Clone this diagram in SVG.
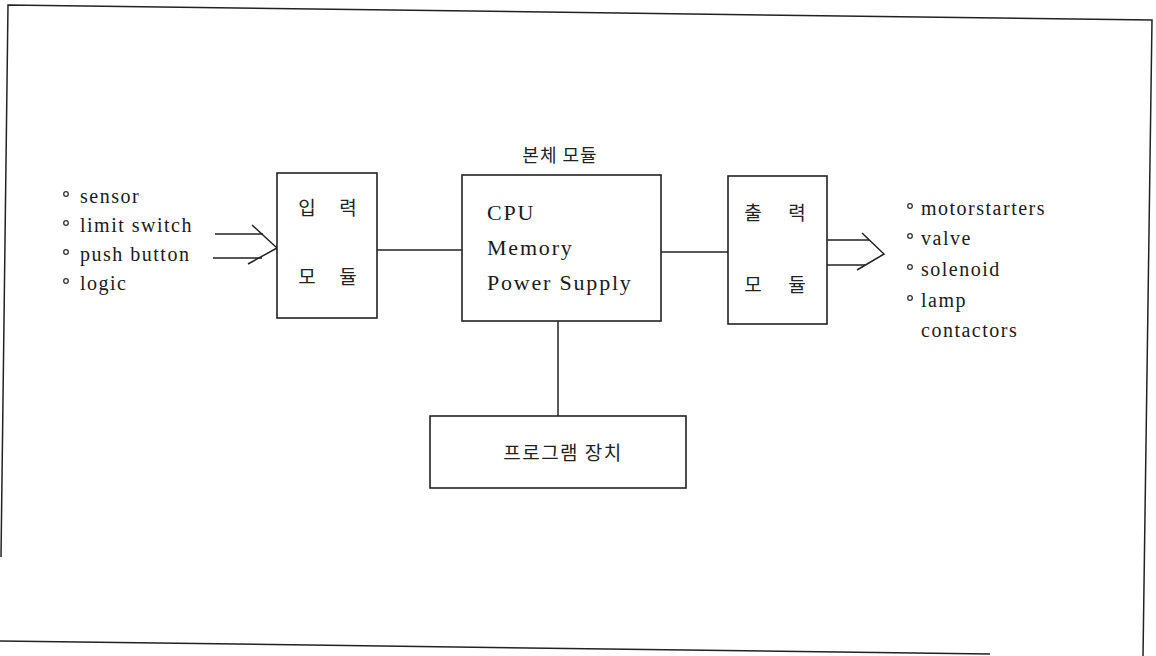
<svg xmlns="http://www.w3.org/2000/svg" width="1156" height="656" viewBox="0 0 1156 656">
<style>
.ln{stroke:#222;stroke-width:1.5;fill:none}
.box{stroke:#222;stroke-width:1.6;fill:#fff}
.lat{font-family:"Liberation Serif","DejaVu Serif","Times New Roman",serif;fill:#1a1a1a}
.ko{font-family:"Noto Sans CJK KR",sans-serif;font-weight:400;fill:#222}
.bul{fill:#fff;stroke:#333;stroke-width:1.3}
</style>
<rect width="1156" height="656" fill="#fff"/>
<g id="frame" class="ln">
<polyline points="1,557 8,5 1152,20 1143,656"/>
<line x1="0" y1="641" x2="990" y2="654"/>
</g>
<g id="connectors" class="ln">
<line x1="215" y1="234" x2="263" y2="234"/>
<line x1="213" y1="258" x2="262" y2="258"/>
<polyline points="252,225 277,248 248,264"/>
<line x1="377" y1="250" x2="462" y2="250"/>
<line x1="661" y1="252" x2="728" y2="252"/>
<line x1="827" y1="240" x2="869" y2="240"/>
<line x1="827" y1="265" x2="865" y2="265"/>
<polyline points="862,233 884,254 857,270"/>
<line x1="558" y1="321" x2="558" y2="416"/>
</g>
<g id="inputs">
<circle class="bul" cx="66" cy="194" r="2.3"/>
<circle class="bul" cx="66" cy="223" r="2.3"/>
<circle class="bul" cx="66" cy="252" r="2.3"/>
<circle class="bul" cx="66" cy="281" r="2.3"/>
<text class="lat" font-size="20" letter-spacing="1.5" x="80" y="203">sensor</text>
<text class="lat" font-size="20" letter-spacing="1.5" x="80" y="232">limit switch</text>
<text class="lat" font-size="20" letter-spacing="1.5" x="80" y="261">push button</text>
<text class="lat" font-size="20" letter-spacing="1.5" x="80" y="290">logic</text>
</g>
<g id="input-module">
<rect class="box" x="277" y="173" width="100" height="145"/>
<text class="ko" font-size="19" text-anchor="middle" x="307" y="215">입</text>
<text class="ko" font-size="19" text-anchor="middle" x="348" y="215">력</text>
<text class="ko" font-size="19" text-anchor="middle" x="307" y="284">모</text>
<text class="ko" font-size="19" text-anchor="middle" x="348" y="284">듈</text>
</g>
<g id="main-module">
<text class="ko" font-size="18" letter-spacing="1" text-anchor="middle" x="560" y="162">본체 모듈</text>
<rect class="box" x="462" y="175" width="199" height="146"/>
<text class="lat" font-size="22" letter-spacing="1.8" x="487" y="220">CPU</text>
<text class="lat" font-size="22" letter-spacing="1.8" x="487" y="255">Memory</text>
<text class="lat" font-size="22" letter-spacing="1.8" x="487" y="290">Power Supply</text>
</g>
<g id="output-module">
<rect class="box" x="728" y="176" width="99" height="148"/>
<text class="ko" font-size="19" text-anchor="middle" x="753" y="220">출</text>
<text class="ko" font-size="19" text-anchor="middle" x="797" y="220">력</text>
<text class="ko" font-size="19" text-anchor="middle" x="753" y="292">모</text>
<text class="ko" font-size="19" text-anchor="middle" x="797" y="292">듈</text>
</g>
<g id="outputs">
<circle class="bul" cx="910" cy="206" r="2.3"/>
<circle class="bul" cx="910" cy="236" r="2.3"/>
<circle class="bul" cx="910" cy="267" r="2.3"/>
<circle class="bul" cx="910" cy="298" r="2.3"/>
<text class="lat" font-size="20" letter-spacing="1.5" x="921" y="215">motorstarters</text>
<text class="lat" font-size="20" letter-spacing="1.5" x="921" y="245">valve</text>
<text class="lat" font-size="20" letter-spacing="1.5" x="921" y="276">solenoid</text>
<text class="lat" font-size="20" letter-spacing="1.5" x="921" y="307">lamp</text>
<text class="lat" font-size="20" letter-spacing="1.5" x="921" y="337">contactors</text>
</g>
<g id="program-device">
<rect class="box" x="430" y="416" width="256" height="72"/>
<text class="ko" font-size="19" letter-spacing="1.5" text-anchor="middle" x="563" y="460">프로그램 장치</text>
</g>
</svg>
